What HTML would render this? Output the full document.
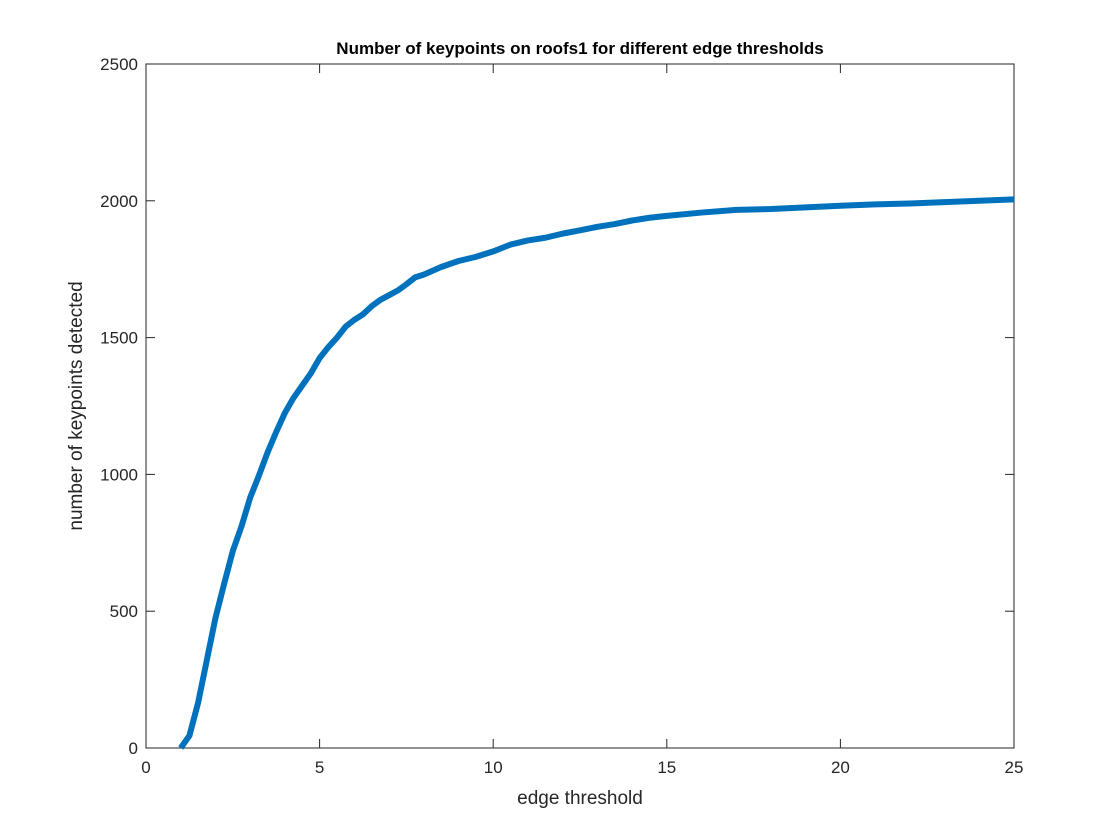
<!DOCTYPE html>
<html><head><meta charset="utf-8"><style>
body{margin:0;background:#fff;}
svg{display:block;font-family:"Liberation Sans",sans-serif;}
</style></head><body>
<svg id="chart" width="1120" height="840">
<rect width="1120" height="840" fill="#fff"/>
<g id="plot"></g>
</svg>
<script>
const xValues=[1,1.25,1.5,1.75,2,2.25,2.5,2.75,3,3.25,3.5,3.75,4,4.25,4.5,4.75,5,5.25,5.5,5.75,6,6.25,6.5,6.75,7,7.25,7.5,7.75,8,8.5,9,9.5,10,10.5,11,11.5,12,12.5,13,13.5,14,14.5,15,16,17,18,19,20,21,22,23,24,25];
const yValues=[0,45,165,320,475,600,720,810,915,995,1080,1155,1225,1280,1325,1370,1425,1465,1500,1540,1565,1585,1615,1638,1655,1672,1695,1720,1730,1758,1780,1795,1815,1840,1855,1865,1880,1892,1905,1915,1928,1938,1945,1957,1967,1970,1976,1982,1987,1990,1995,2000,2005];
const xTicks=[0,5,10,15,20,25];
const yTicks=[0,500,1000,1500,2000,2500];
const L=146,R=1014,T=64,B=748,XMAX=25,YMAX=2500;
const sx=v=>L+v/XMAX*(R-L), sy=v=>B-v/YMAX*(B-T);
const NS='http://www.w3.org/2000/svg', g=document.getElementById('plot');
function mk(t,a){const e=document.createElementNS(NS,t);for(const k in a)e.setAttribute(k,a[k]);g.appendChild(e);return e;}
const box=mk('rect',{x:L,y:T,width:R-L,height:B-T,fill:'none',stroke:'#262626','stroke-width':1});


xTicks.forEach(v=>{const x=sx(v);
 const t1=mk('line',{x1:x,x2:x,y1:B,y2:B-9,stroke:'#262626'});
 
 
 const t2=mk('line',{x1:x,x2:x,y1:T,y2:T+9,stroke:'#262626'});
 
 
 const tx=mk('text',{x:x,y:B+25,'text-anchor':'middle','font-size':17,fill:'#262626'});tx.textContent=v;
 
 
});
yTicks.forEach(v=>{const y=sy(v);
 const t1=mk('line',{x1:L,x2:L+9,y1:y,y2:y,stroke:'#262626'});
 
 
 const t2=mk('line',{x1:R,x2:R-9,y1:y,y2:y,stroke:'#262626'});
 
 
 const tx=mk('text',{x:L-8,y:y+6,'text-anchor':'end','font-size':17,fill:'#262626'});tx.textContent=v;
 
 
});
const line=mk('polyline',{points:xValues.map((x,i)=>sx(x)+','+sy(yValues[i])).join(' '),fill:'none',stroke:'#0072bd','stroke-width':6,'stroke-linejoin':'round'});


const ti=mk('text',{x:580,y:54,'text-anchor':'middle','font-size':17,'font-weight':'bold',fill:'#000'});ti.textContent='Number of keypoints on roofs1 for different edge thresholds';


const xl=mk('text',{x:580,y:804,'text-anchor':'middle','font-size':19,fill:'#262626'});xl.textContent='edge threshold';


const yl=mk('text',{x:0,y:0,'text-anchor':'middle','font-size':19,fill:'#262626',transform:'translate(82,406) rotate(-90)'});yl.textContent='number of keypoints detected';


</script>
</body></html>
